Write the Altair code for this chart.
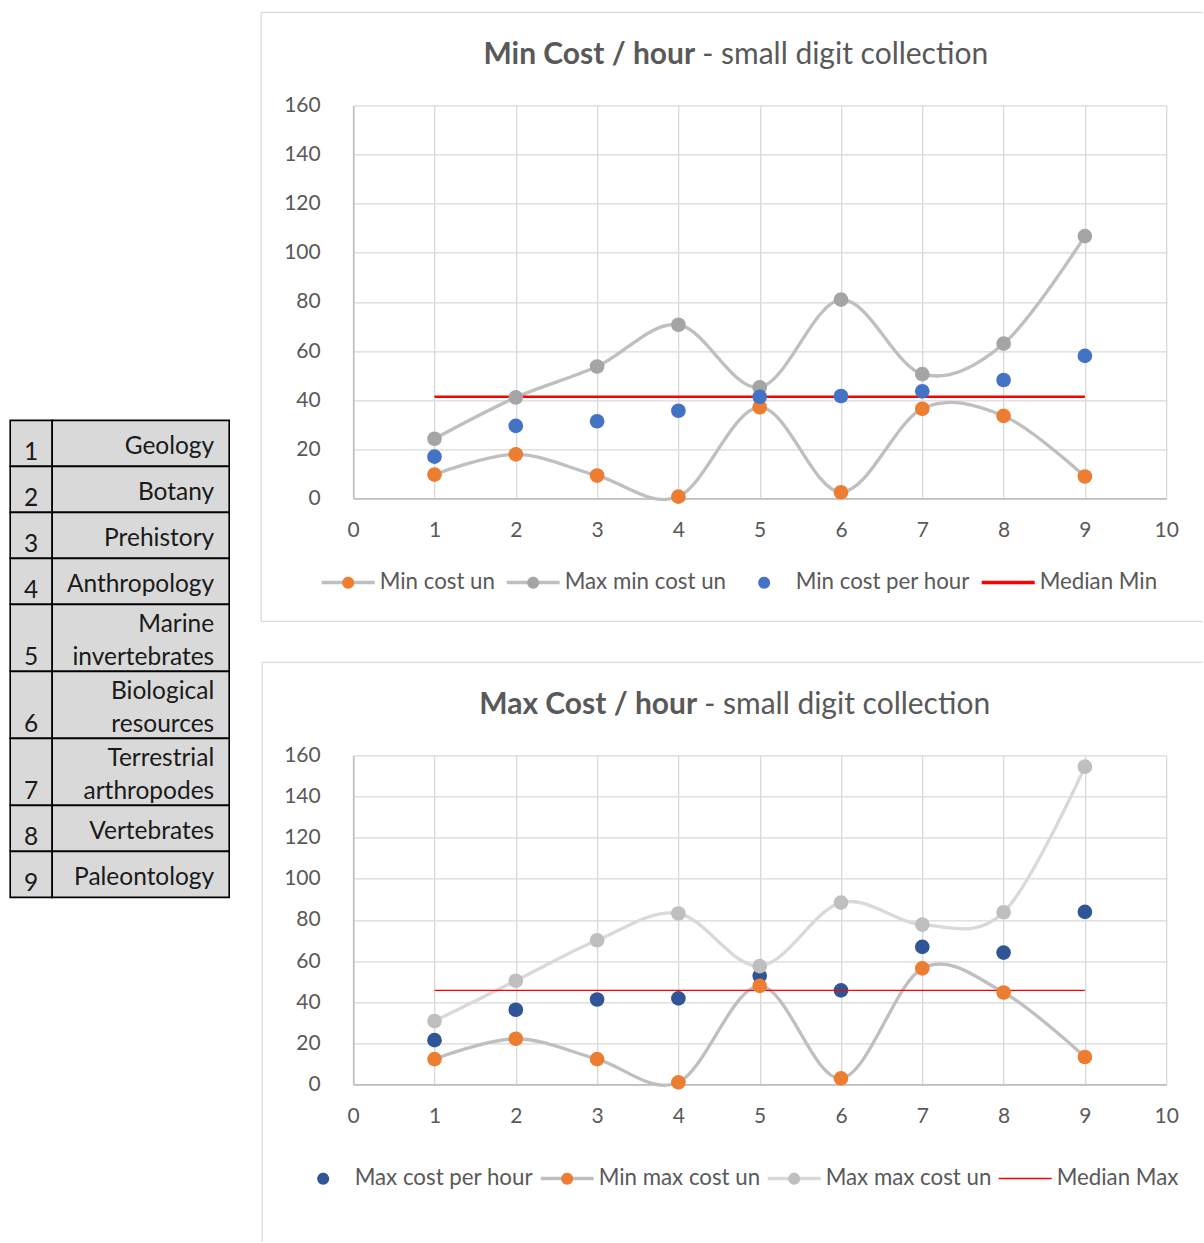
import altair as alt
import pandas as pd

# ---------------------------------------------------------------- data
collection_ids = [1, 2, 3, 4, 5, 6, 7, 8, 9]
collection_names = [
    "Geology", "Botany", "Prehistory", "Anthropology", "Marine invertebrates",
    "Biological resources", "Terrestrial arthropodes", "Vertebrates", "Paleontology",
]

x_ticks = list(range(0, 11))
y_ticks = list(range(0, 161, 20))

# Min cost / hour
min_cost_un = [9.7, 17.9, 9.3, 0.7, 37.1, 2.5, 36.5, 33.6, 8.9]
max_min_cost_un = [24.3, 41.1, 53.7, 70.7, 45.2, 80.9, 50.6, 63.0, 106.8]
min_cost_per_hour = [17.0, 29.5, 31.4, 35.7, 41.4, 41.7, 43.6, 48.2, 58.0]
median_min = 41.4

# Max cost / hour
max_cost_per_hour = [21.5, 36.3, 41.3, 41.8, 52.8, 45.7, 66.9, 64.1, 83.9]
min_max_cost_un = [12.3, 22.2, 12.3, 1.0, 47.9, 2.9, 56.4, 44.7, 13.3]
max_max_cost_un = [30.8, 50.4, 70.1, 83.1, 57.5, 88.4, 77.7, 83.7, 154.5]
median_max = 45.7

# ---------------------------------------------------------------- style
FONT = "Lato"
TEXT_GREY = "#595959"
GRID = "#d9d9d9"
AXIS_LINE = "#bfbfbf"
FRAME = "#d9d9d9"
ORANGE = "#ed7d31"
BLUE = "#4472c4"
DARK_BLUE = "#2f5597"
MID_GREY = "#a5a5a5"
LINE_GREY = "#bfbfbf"
LIGHT_GREY = "#d9d9d9"
RED = "#ff0000"
CLEAR = "transparent"

TICK_FS = 21
LEGEND_FS = 22.3
TITLE_FS = 30
TABLE_FS = 24.5

PLOT_W = 813
TOP_H = 393
BOTTOM_H = 329

# legend symbols: a horizontal stroke, and a small dot spanning the same extent
LEG_W = 53
LEG_SW = 3.5
LINE_PATH = "M-1,0L1,0"
R = 0.226
DOT_PATH = (
    "M-1,0L-1,0M1,0L1,0"
    f"M-{R},0A{R},{R},0,1,1,{R},0A{R},{R},0,1,1,-{R},0Z"
)

# thin stroke for the "Median Max" entry, padded to the same extent as the others
THIN = 1.3
THIN_W = 55.2
THIN_EDGE = 30.2
_half = LEG_W / THIN_W
_edge = THIN_EDGE / (THIN_W / 2)
THIN_PATH = f"M-{_edge:.4f},0L-{_edge:.4f},0M{_edge:.4f},0L{_edge:.4f},0M-{_half:.4f},0L{_half:.4f},0"


def series_frame(named_values, key_prefix=""):
    rows = []
    for name, values in named_values:
        for xi, v in zip(collection_ids, values):
            rows.append({"x": xi, "y": v, "series": key_prefix + name})
    return pd.DataFrame(rows)


def x_enc():
    return alt.X(
        "x:Q",
        scale=alt.Scale(domain=[0, 10], nice=False, zero=False),
        axis=alt.Axis(
            values=x_ticks, title=None, grid=True, gridColor=GRID, gridWidth=1.3,
            domainColor=AXIS_LINE, domainWidth=1.6, ticks=False, tickSize=0,
            labelFont=FONT, labelFontSize=TICK_FS, labelColor=TEXT_GREY,
            labelPadding=32, labelBaseline="middle", labelFlush=False, labelOverlap=False,
        ),
    )


def y_enc():
    return alt.Y(
        "y:Q",
        scale=alt.Scale(domain=[0, 160], nice=False, zero=False),
        axis=alt.Axis(
            values=y_ticks, title=None, grid=True, gridColor=GRID, gridWidth=1.3,
            domainColor=AXIS_LINE, domainWidth=1.6, ticks=False, tickSize=0,
            labelFont=FONT, labelFontSize=TICK_FS, labelColor=TEXT_GREY,
            labelPadding=33, labelFlush=False, labelOverlap=False,
        ),
    )


def legend(shape, size, sw, lx, ly, pad, z, show_labels, fill_clear=False, stroke_clear=False):
    opts = dict(
        orient="none", legendX=lx, legendY=ly, direction="horizontal", title=None,
        symbolType=shape, symbolSize=size, symbolStrokeWidth=sw, symbolOffset=0,
        labelFont=FONT, labelFontSize=LEGEND_FS,
        labelColor=TEXT_GREY if show_labels else CLEAR,
        labelOffset=3, columnPadding=pad, padding=0, labelLimit=500, zindex=z,
        labelExpr="split(datum.label, '|')[1]",
    )
    if fill_clear:
        opts["symbolFillColor"] = CLEAR
    if stroke_clear:
        opts["symbolStrokeColor"] = CLEAR
    return alt.Legend(**opts)


def frame_and_title(frame_left, frame_top, frame_bottom, frame_right, closed,
                    title_bold, title_rest, split):
    one = alt.Data(values=[{"k": 0}])
    rule = dict(color=FRAME, strokeWidth=1.3)
    parts = [
        alt.Chart(one).mark_rule(**rule).encode(
            x=alt.value(frame_left), x2=alt.value(frame_right), y=alt.value(frame_top)),
        alt.Chart(one).mark_rule(**rule).encode(
            x=alt.value(frame_left), y=alt.value(frame_top), y2=alt.value(frame_bottom)),
    ]
    if closed:
        parts.append(alt.Chart(one).mark_rule(**rule).encode(
            x=alt.value(frame_left), x2=alt.value(frame_right), y=alt.value(frame_bottom)))
    parts.append(alt.Chart(one).mark_text(
        text=title_bold, font=FONT, fontSize=TITLE_FS, fontWeight="bold", color=TEXT_GREY,
        align="right", baseline="middle",
    ).encode(x=alt.value(split), y=alt.value(-50)))
    parts.append(alt.Chart(one).mark_text(
        text=title_rest, font=FONT, fontSize=TITLE_FS, color=TEXT_GREY,
        align="left", baseline="middle",
    ).encode(x=alt.value(split + 7), y=alt.value(-50)))
    return parts


# ---------------------------------------------------------------- top chart
top_names = ["Min cost un", "Max min cost un", "Min cost per hour", "Median Min"]
top_line_keys = ["l|" + n for n in top_names]
top_dot_keys = ["d|" + n for n in top_names]

top_lines = series_frame([("Min cost un", min_cost_un), ("Max min cost un", max_min_cost_un)], "l|")
top_median = pd.DataFrame({"x": [collection_ids[0], collection_ids[-1]],
                           "y": [median_min, median_min],
                           "series": ["l|Median Min"] * 2})
top_dots = series_frame([("Min cost un", min_cost_un), ("Max min cost un", max_min_cost_un),
                         ("Min cost per hour", min_cost_per_hour)], "d|")

leg_size = LEG_W ** 2
TOP_LX, TOP_LY, TOP_PAD = -33.5, 448.5, 4
top_line_legend = legend(LINE_PATH, leg_size, LEG_SW, TOP_LX, TOP_LY, TOP_PAD, 1, True, fill_clear=True)
top_dot_legend = legend(DOT_PATH, leg_size, LEG_SW, TOP_LX, TOP_LY, TOP_PAD, 2, False, stroke_clear=True)
top_stroke = alt.Stroke("series:N",
                        scale=alt.Scale(domain=top_line_keys, range=[LINE_GREY, LINE_GREY, CLEAR, RED]),
                        legend=top_line_legend)

top_layers = frame_and_title(-92, -93, 516, 849, True,
                             "Min Cost / hour", "- small digit collection", 342)
top_layers += [
    alt.Chart(top_lines).mark_line(interpolate="cardinal", strokeWidth=3.3, strokeCap="round",
                                   strokeJoin="round").encode(x=x_enc(), y=y_enc(), stroke=top_stroke),
    alt.Chart(top_median).mark_line(strokeWidth=2.4).encode(x=x_enc(), y=y_enc(), stroke=top_stroke),
    alt.Chart(top_dots).mark_circle(size=215, opacity=1).encode(
        x=x_enc(), y=y_enc(),
        fill=alt.Fill("series:N",
                      scale=alt.Scale(domain=top_dot_keys, range=[ORANGE, MID_GREY, BLUE, CLEAR]),
                      legend=top_dot_legend),
    ),
]
top_chart = alt.layer(*top_layers).properties(width=PLOT_W, height=TOP_H)

# ---------------------------------------------------------------- bottom chart
bot_names = ["Max cost per hour", "Min max cost un", "Max max cost un", "Median Max"]
bot_line_keys = ["l|" + n for n in bot_names]
bot_med_keys = ["m|" + n for n in bot_names]
bot_dot_keys = ["d|" + n for n in bot_names]

bot_lines = series_frame([("Min max cost un", min_max_cost_un), ("Max max cost un", max_max_cost_un)], "l|")
bot_median = pd.DataFrame({"x": [collection_ids[0], collection_ids[-1]],
                           "y": [median_max, median_max],
                           "series": ["m|Median Max"] * 2})
bot_dots = series_frame([("Max cost per hour", max_cost_per_hour), ("Min max cost un", min_max_cost_un),
                         ("Max max cost un", max_max_cost_un)], "d|")

BOT_LX, BOT_LY, BOT_PAD = -58.5, 394.5, 0
bot_line_legend = legend(LINE_PATH, leg_size, LEG_SW, BOT_LX, BOT_LY, BOT_PAD, 1, True, fill_clear=True)
bot_med_legend = legend(THIN_PATH, THIN_W ** 2, THIN, BOT_LX, BOT_LY, BOT_PAD, 1, False, fill_clear=True)
bot_dot_legend = legend(DOT_PATH, leg_size, LEG_SW, BOT_LX, BOT_LY, BOT_PAD, 2, False, stroke_clear=True)
bot_fill = alt.Fill("series:N",
                    scale=alt.Scale(domain=bot_dot_keys, range=[DARK_BLUE, ORANGE, LINE_GREY, CLEAR]),
                    legend=bot_dot_legend)

bot_layers = frame_and_title(-91, -93, 486, 849, False,
                             "Max Cost / hour", "- small digit collection", 344)
bot_layers += [
    alt.Chart(bot_dots[bot_dots.series == "d|Max cost per hour"]).mark_circle(size=215, opacity=1).encode(
        x=x_enc(), y=y_enc(), fill=bot_fill),
    alt.Chart(bot_lines).mark_line(interpolate="cardinal", strokeWidth=3.3, strokeCap="round",
                                   strokeJoin="round").encode(
        x=x_enc(), y=y_enc(),
        stroke=alt.Stroke("series:N",
                          scale=alt.Scale(domain=bot_line_keys, range=[CLEAR, LINE_GREY, LIGHT_GREY, CLEAR]),
                          legend=bot_line_legend),
    ),
    alt.Chart(bot_median).mark_line(strokeWidth=THIN).encode(
        x=x_enc(), y=y_enc(),
        stroke=alt.Stroke("series:N",
                          scale=alt.Scale(domain=bot_med_keys, range=[CLEAR, CLEAR, CLEAR, RED]),
                          legend=bot_med_legend),
    ),
    alt.Chart(bot_dots[bot_dots.series != "d|Max cost per hour"]).mark_circle(size=215, opacity=1).encode(
        x=x_enc(), y=y_enc(), fill=bot_fill),
]
bottom_chart = alt.layer(*bot_layers).resolve_scale(stroke="independent").properties(
    width=PLOT_W, height=BOTTOM_H)

# ---------------------------------------------------------------- collections table
ROW_H = 46
LINE_H = 33
TABLE_TOP = 315
rows = []
cursor = 0
for cid, name in zip(collection_ids, collection_names):
    words = name.split(" ")
    h = max(ROW_H, LINE_H * len(words) + 1)
    rows.append({"id": str(cid), "name": "\n".join(words),
                 "y0": cursor, "y1": cursor + h,
                 "yt": cursor + h / 2 - (len(words) - 1) * LINE_H / 2})
    cursor += h
table_df = pd.DataFrame(rows)
ty = alt.Scale(domain=[0, cursor], range=[TABLE_TOP, TABLE_TOP + cursor], nice=False, zero=False)

cell = dict(fill="#d9d9d9", stroke="#000000", strokeWidth=1.6)
tbase = alt.Chart(table_df)
table = alt.layer(
    tbase.mark_rect(**cell).encode(x=alt.value(0), x2=alt.value(42),
                                   y=alt.Y("y0:Q", scale=ty, axis=None), y2="y1:Q"),
    tbase.mark_rect(**cell).encode(x=alt.value(42), x2=alt.value(219),
                                   y=alt.Y("y0:Q", scale=ty, axis=None), y2="y1:Q"),
    tbase.mark_text(font=FONT, fontSize=TABLE_FS, color="#1a1a1a", align="center",
                    baseline="alphabetic", dy=-6).encode(
        x=alt.value(21), y=alt.Y("y1:Q", scale=ty, axis=None), text="id:N"),
    tbase.mark_text(font=FONT, fontSize=TABLE_FS, color="#1a1a1a", align="right",
                    baseline="middle", lineBreak="\n", lineHeight=LINE_H, dy=4).encode(
        x=alt.value(204), y=alt.Y("yt:Q", scale=ty, axis=None), text="name:N"),
).properties(width=219, height=TABLE_TOP + cursor)

# ---------------------------------------------------------------- layout
charts = alt.vconcat(top_chart, bottom_chart, spacing=257, bounds="flush").resolve_scale(
    fill="independent", stroke="independent"
).resolve_legend(fill="independent", stroke="independent")
chart = alt.hconcat(table, charts, spacing=124, bounds="flush").resolve_scale(
    fill="independent", stroke="independent"
).configure_view(
    stroke=None
).properties(
    padding={"left": 9.2, "top": 11.4, "right": 0, "bottom": 0},
    background="white",
)

chart.save("out.html", embed_options={"renderer": "svg", "actions": False})
